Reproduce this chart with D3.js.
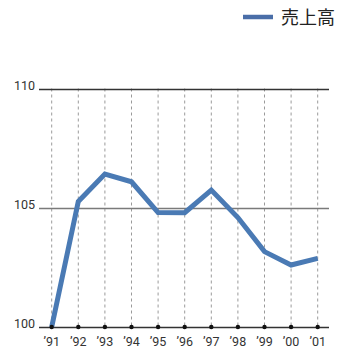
<!DOCTYPE html>
<html><head><meta charset="utf-8">
<script src="https://cdn.jsdelivr.net/npm/d3@7"></script>
<style>html,body{margin:0;padding:0;background:#fff;}svg{display:block;}</style>
</head><body>
<script>
const categories = ["’91","’92","’93","’94","’95","’96","’97","’98","’99","’00","’01"];
const sales = [100, 105.26, 106.41, 106.09, 104.8, 104.79, 105.74, 104.59, 103.16, 102.6, 102.88];
const yTicks = [100, 105, 110];
const seriesName = "売上高";

const W = 344, H = 348;
const svg = d3.select("body").append("svg").attr("width", W).attr("height", H);

const x = d3.scalePoint().domain(categories).range([51.7, 317.7]);
const y = d3.scaleLinear().domain([100, 110]).range([327, 88.5]);
const left = 39, right = 329;

// vertical dashed grid
svg.append("g").selectAll("line").data(categories).join("line")
  .attr("x1", d => x(d)).attr("x2", d => x(d))
  .attr("y1", y(110)).attr("y2", y(100))
  .attr("stroke", "#9a9a9a").attr("stroke-width", 1).attr("stroke-dasharray", "3,3");

// horizontal lines
svg.append("g").selectAll("line").data(yTicks).join("line")
  .attr("x1", left).attr("x2", right)
  .attr("y1", d => Math.round(y(d)) + 0.5).attr("y2", d => Math.round(y(d)) + 0.5)
  .attr("stroke", d => d === 105 ? "#7a7a7a" : "#333")
  .attr("stroke-width", d => d === 105 ? 1.5 : 1.3);

// y labels
svg.append("g").selectAll("text").data(yTicks).join("text")
  .attr("x", 35).attr("y", d => y(d) + 1)
  .attr("text-anchor", "end")
  .attr("font-family", "Roboto, 'Noto Sans', sans-serif").attr("font-size", 12.5)
  .attr("fill", "#333").text(d => d);

// x labels
svg.append("g").selectAll("text").data(categories).join("text")
  .attr("x", x).attr("y", 346)
  .attr("text-anchor", "middle")
  .attr("font-family", "Roboto, 'Noto Sans', sans-serif").attr("font-size", 12.5)
  .attr("fill", "#333").text(d => d);

// line
const line = d3.line().x((d, i) => x(categories[i])).y(d => y(d));
svg.append("path").datum(sales)
  .attr("d", line).attr("fill", "none")
  .attr("stroke", "#4a7ab4").attr("stroke-width", 5).attr("stroke-linejoin", "miter");

// dots on baseline
svg.append("g").selectAll("circle").data(categories).join("circle")
  .attr("cx", x).attr("cy", y(100))
  .attr("r", 2.2).attr("fill", "#111");

// legend
svg.append("line").attr("x1", 243).attr("x2", 273).attr("y1", 17).attr("y2", 17)
  .attr("stroke", "#4a6ea8").attr("stroke-width", 4.5);
svg.append("text").attr("x", 281).attr("y", 23.5)
  .attr("font-family", "'Noto Sans CJK JP', sans-serif").attr("font-size", 18)
  .attr("fill", "#222").text(seriesName);
</script>
</body></html>
